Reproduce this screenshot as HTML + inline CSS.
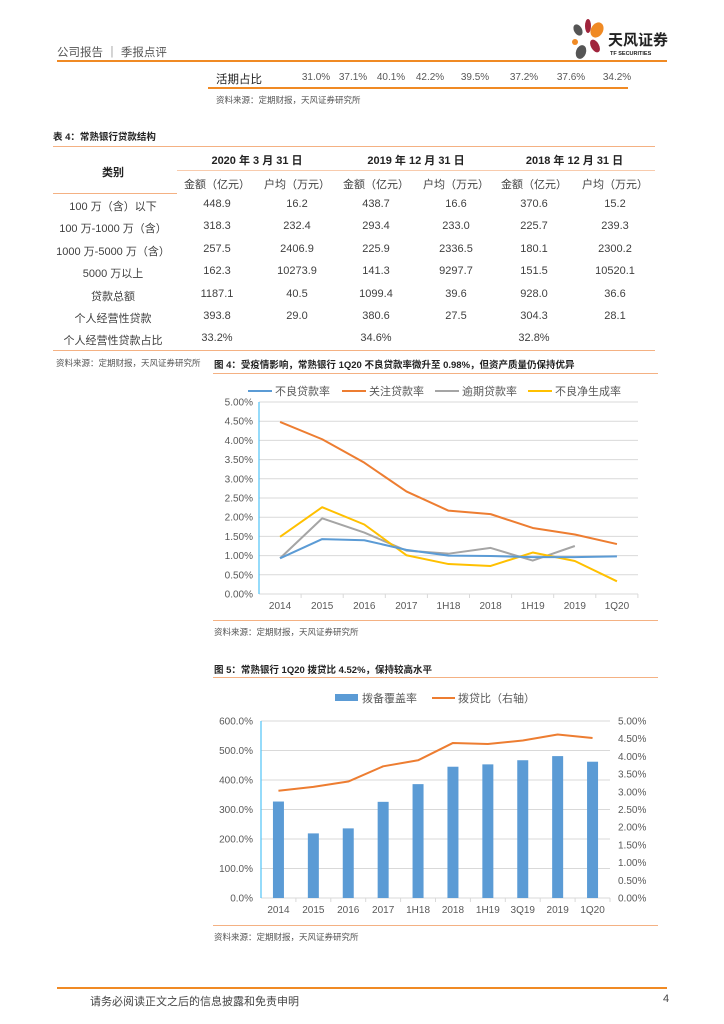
<!DOCTYPE html>
<html><head><meta charset="utf-8"><style>
body{margin:0;width:724px;height:1024px;background:#fff;position:relative;overflow:hidden;font-family:"Liberation Sans","Noto Sans CJK SC",sans-serif;color:#333}
.a{position:absolute;white-space:nowrap}
.hl{position:absolute;height:0;border-top:1.5px solid #f4b183}
.t{font-size:11px;color:#404040}
.c{position:absolute;transform:translateX(-50%);white-space:nowrap;font-size:11px;color:#595959}
.b{font-weight:bold;color:#222}
.src{font-size:8.5px;color:#555}
</style></head><body>
<div class="a" style="left:57px;top:44px;font-size:11.5px;color:#555">公司报告 ｜ 季报点评</div>
<div style="position:absolute;left:57px;top:60px;width:610px;height:2px;background:#f08a24"></div>
<svg class="a" style="left:565px;top:18px" width="110" height="44">
<ellipse cx="13" cy="12" rx="4" ry="6" fill="#555" transform="rotate(-30 13 12)"/><ellipse cx="23" cy="8" rx="3" ry="7" fill="#a0243c"/><ellipse cx="32" cy="12" rx="6" ry="8" fill="#f08a24" transform="rotate(30 32 12)"/><ellipse cx="10" cy="24" rx="3" ry="3" fill="#f08a24"/><ellipse cx="30" cy="28" rx="4" ry="7" fill="#a0243c" transform="rotate(-30 30 28)"/><ellipse cx="16" cy="34" rx="5" ry="7" fill="#555" transform="rotate(20 16 34)"/>
<text x="43" y="27" font-size="15" font-weight="bold" fill="#222" font-family="Liberation Sans,Noto Sans CJK SC,sans-serif">天风证券</text>
<text x="45" y="37" font-size="5.5" font-weight="bold" fill="#222" font-family="Liberation Sans,sans-serif">TF SECURITIES</text></svg>

<div class="a t" style="left:216px;top:71px;font-size:11.5px;color:#222">活期占比</div>
<div id="dr"></div>
<div style="position:absolute;left:208px;top:87px;width:420px;height:1.5px;background:#f08a24"></div>
<div class="a src" style="left:216px;top:94px">资料来源：定期财报，天风证券研究所</div>

<div class="a b" style="left:53px;top:129px;font-size:9.5px">表 4：常熟银行贷款结构</div>
<div class="hl" style="left:53px;top:146px;width:602px"></div>
<div class="hl" style="left:177px;top:170px;width:478px;border-color:#f8cbad;border-top-width:1px"></div>
<div class="hl" style="left:53px;top:193px;width:124px"></div>
<div class="hl" style="left:53px;top:350px;width:602px"></div>
<div class="a src" style="left:56px;top:357px">资料来源：定期财报，天风证券研究所</div>
<div id="tbl"></div>

<div class="a b" style="left:214px;top:357px;font-size:9.5px">图 4：受疫情影响，常熟银行 1Q20 不良贷款率微升至 0.98%，但资产质量仍保持优异</div>
<div class="hl" style="left:213px;top:373px;width:445px"></div>
<svg id="c4" class="a" style="left:0;top:0" width="724" height="1024"></svg>
<div class="hl" style="left:213px;top:620px;width:445px"></div>
<div class="a src" style="left:214px;top:626px">资料来源：定期财报，天风证券研究所</div>

<div class="a b" style="left:214px;top:662px;font-size:9.5px">图 5：常熟银行 1Q20 拨贷比 4.52%，保持较高水平</div>
<div class="hl" style="left:213px;top:677px;width:445px"></div>
<div class="hl" style="left:213px;top:925px;width:445px"></div>
<div class="a src" style="left:214px;top:931px">资料来源：定期财报，天风证券研究所</div>

<div style="position:absolute;left:57px;top:987px;width:610px;height:1.5px;background:#f08a24"></div>
<div class="a" style="left:90px;top:993px;font-size:11px;color:#444">请务必阅读正文之后的信息披露和免责申明</div>
<div class="a" style="left:663px;top:993px;font-size:11px;color:#444">4</div>

<script>
const demandVals=['31.0%','37.1%','40.1%','42.2%','39.5%','37.2%','37.6%','34.2%'];
const demandX=[306,343,381,420,465,514,561,607];
const dr=document.getElementById('dr');
demandVals.forEach((v,i)=>{const d=document.createElement('div');d.className='c';d.style.left=(demandX[i]+10)+'px';d.style.top='72px';d.style.fontSize='10px';d.textContent=v;


dr.appendChild(d);});

const rowLabels=['100 万（含）以下','100 万-1000 万（含）','1000 万-5000 万（含）','5000 万以上','贷款总额','个人经营性贷款','个人经营性贷款占比'];
const tableRows=[['448.9','16.2','438.7','16.6','370.6','15.2'],['318.3','232.4','293.4','233.0','225.7','239.3'],['257.5','2406.9','225.9','2336.5','180.1','2300.2'],['162.3','10273.9','141.3','9297.7','151.5','10520.1'],['1187.1','40.5','1099.4','39.6','928.0','36.6'],['393.8','29.0','380.6','27.5','304.3','28.1'],['33.2%','','34.6%','','32.8%','']];
const colX=[217,297,376,456,534,615];
const tbl=document.getElementById('tbl');
function cell(txt,x,y,bold,name){const d=document.createElement('div');d.className='c';d.style.left=x+'px';d.style.top=y+'px';d.style.color=bold?'#222':'#404040';if(bold)d.style.fontWeight='bold';d.textContent=txt;


tbl.appendChild(d);}
cell('类别',113,164,true,'category-header');
['2020 年 3 月 31 日','2019 年 12 月 31 日','2018 年 12 月 31 日'].forEach((t,i)=>cell(t,(colX[i*2]+colX[i*2+1])/2,152,true,'year-header'));
colX.forEach((x,i)=>cell(i%2?'户均（万元）':'金额（亿元）',x,176,false,'unit-header'));
rowLabels.forEach((l,r)=>{const y=198+r*22.4;cell(l,113,y,false,'row-label');tableRows[r].forEach((v,c)=>{if(v)cell(v,colX[c],y,false,'table-value');});});

const NS='http://www.w3.org/2000/svg';
function el(svg,tag,attrs,name){const e=document.createElementNS(NS,tag);for(const k in attrs)e.setAttribute(k,attrs[k]);


svg.appendChild(e);return e;}
function txt(svg,x,y,s,anchor,name,size){const t=el(svg,'text',{x:x,y:y,'text-anchor':anchor||'middle','font-size':size||10,fill:'#595959','font-family':'Liberation Sans,Noto Sans CJK SC,sans-serif'},name);t.textContent=s;return t;}

// Chart 4
const c4Cats=['2014','2015','2016','2017','1H18','2018','1H19','2019','1Q20'];
const c4Npl=[0.93,1.43,1.40,1.15,1.00,0.99,0.96,0.96,0.98];
const c4Special=[4.48,4.03,3.42,2.67,2.17,2.08,1.72,1.55,1.30];
const c4Overdue=[0.93,1.97,1.60,1.13,1.05,1.20,0.87,1.25];
const c4NetGen=[1.49,2.26,1.81,1.01,0.78,0.73,1.08,0.86,0.33];
const c4Ticks=[0,0.5,1,1.5,2,2.5,3,3.5,4,4.5,5];
const s4=document.getElementById('c4');
const x4=i=>259+(638-259)/c4Cats.length*(i+0.5), y4=v=>594-v/5*192;
c4Ticks.forEach(t=>{if(t>0)el(s4,'line',{x1:259,x2:638,y1:y4(t),y2:y4(t),stroke:'#d9d9d9','stroke-width':1},'gridline');txt(s4,253,y4(t)+3.5,t.toFixed(2)+'%','end','y-tick-label');});
el(s4,'line',{x1:259,x2:638,y1:594,y2:594,stroke:'#d9d9d9'},'x-axis');
el(s4,'line',{x1:259,x2:259,y1:402,y2:594,stroke:'#4fc3f7','stroke-width':1.2},'y-axis');
c4Cats.forEach((c,i)=>{txt(s4,x4(i),609,c,'middle','x-tick-label');el(s4,'line',{x1:259+42.1*(i+1),x2:259+42.1*(i+1),y1:594,y2:598,stroke:'#d9d9d9'},'x-tick');});
function series(svg,data,xf,yf,color,name){el(svg,'polyline',{points:data.map((v,i)=>xf(i)+','+yf(v)).join(' '),fill:'none',stroke:color,'stroke-width':2,'stroke-linejoin':'round'},name);}
series(s4,c4Special,x4,y4,'#ed7d31','series-special-mention');
series(s4,c4Overdue,x4,y4,'#a5a5a5','series-overdue');
series(s4,c4NetGen,x4,y4,'#ffc000','series-npl-formation');
series(s4,c4Npl,x4,y4,'#5b9bd5','series-npl');
[['不良贷款率','#5b9bd5',248],['关注贷款率','#ed7d31',342],['逾期贷款率','#a5a5a5',435],['不良净生成率','#ffc000',528]].forEach(l=>{el(s4,'line',{x1:l[2],x2:l[2]+24,y1:391,y2:391,stroke:l[1],'stroke-width':2},'legend-line');txt(s4,l[2]+27,395,l[0],'start','legend-label',11);});

// Chart 5
const c5Cats=['2014','2015','2016','2017','1H18','2018','1H19','3Q19','2019','1Q20'];
const c5Coverage=[327,219,236,326,386,445,453,467,481,462];
const c5Ratio=[3.03,3.14,3.29,3.72,3.89,4.38,4.35,4.45,4.62,4.52];
const c5LeftTicks=[0,100,200,300,400,500,600];
const c5RightTicks=[0,0.5,1,1.5,2,2.5,3,3.5,4,4.5,5];
const s5=s4;
const bw=(610-261)/c5Cats.length;
const x5=i=>261+bw*(i+0.5), yl=v=>898-v/600*177, yr=v=>898-v/5*177;
c5LeftTicks.forEach(t=>{if(t>0)el(s5,'line',{x1:261,x2:610,y1:yl(t),y2:yl(t),stroke:'#d9d9d9'},'gridline');txt(s5,253,yl(t)+3.5,t.toFixed(1)+'%','end','left-tick-label');});
c5RightTicks.forEach(t=>txt(s5,618,yr(t)+3.5,t.toFixed(2)+'%','start','right-tick-label'));
el(s5,'line',{x1:261,x2:610,y1:898,y2:898,stroke:'#d9d9d9'},'x-axis');
el(s5,'line',{x1:261,x2:261,y1:721,y2:898,stroke:'#4fc3f7','stroke-width':1.2},'left-axis');
c5Cats.forEach((c,i)=>{txt(s5,x5(i),913,c,'middle','x-tick-label');el(s5,'line',{x1:261+bw*(i+1),x2:261+bw*(i+1),y1:898,y2:902,stroke:'#d9d9d9'},'x-tick');});
c5Coverage.forEach((v,i)=>el(s5,'rect',{x:x5(i)-5.5,y:yl(v),width:11,height:898-yl(v),fill:'#5b9bd5'},'bar-coverage'));
series(s5,c5Ratio,x5,yr,'#ed7d31','series-provision-ratio');
el(s5,'rect',{x:335,y:694,width:23,height:7,fill:'#5b9bd5'},'legend-bar');
txt(s5,362,702,'拨备覆盖率','start','legend-label',11);
el(s5,'line',{x1:432,x2:455,y1:698,y2:698,stroke:'#ed7d31','stroke-width':2},'legend-line');
txt(s5,458,702,'拨贷比（右轴）','start','legend-label',11);
</script>
</body></html>
